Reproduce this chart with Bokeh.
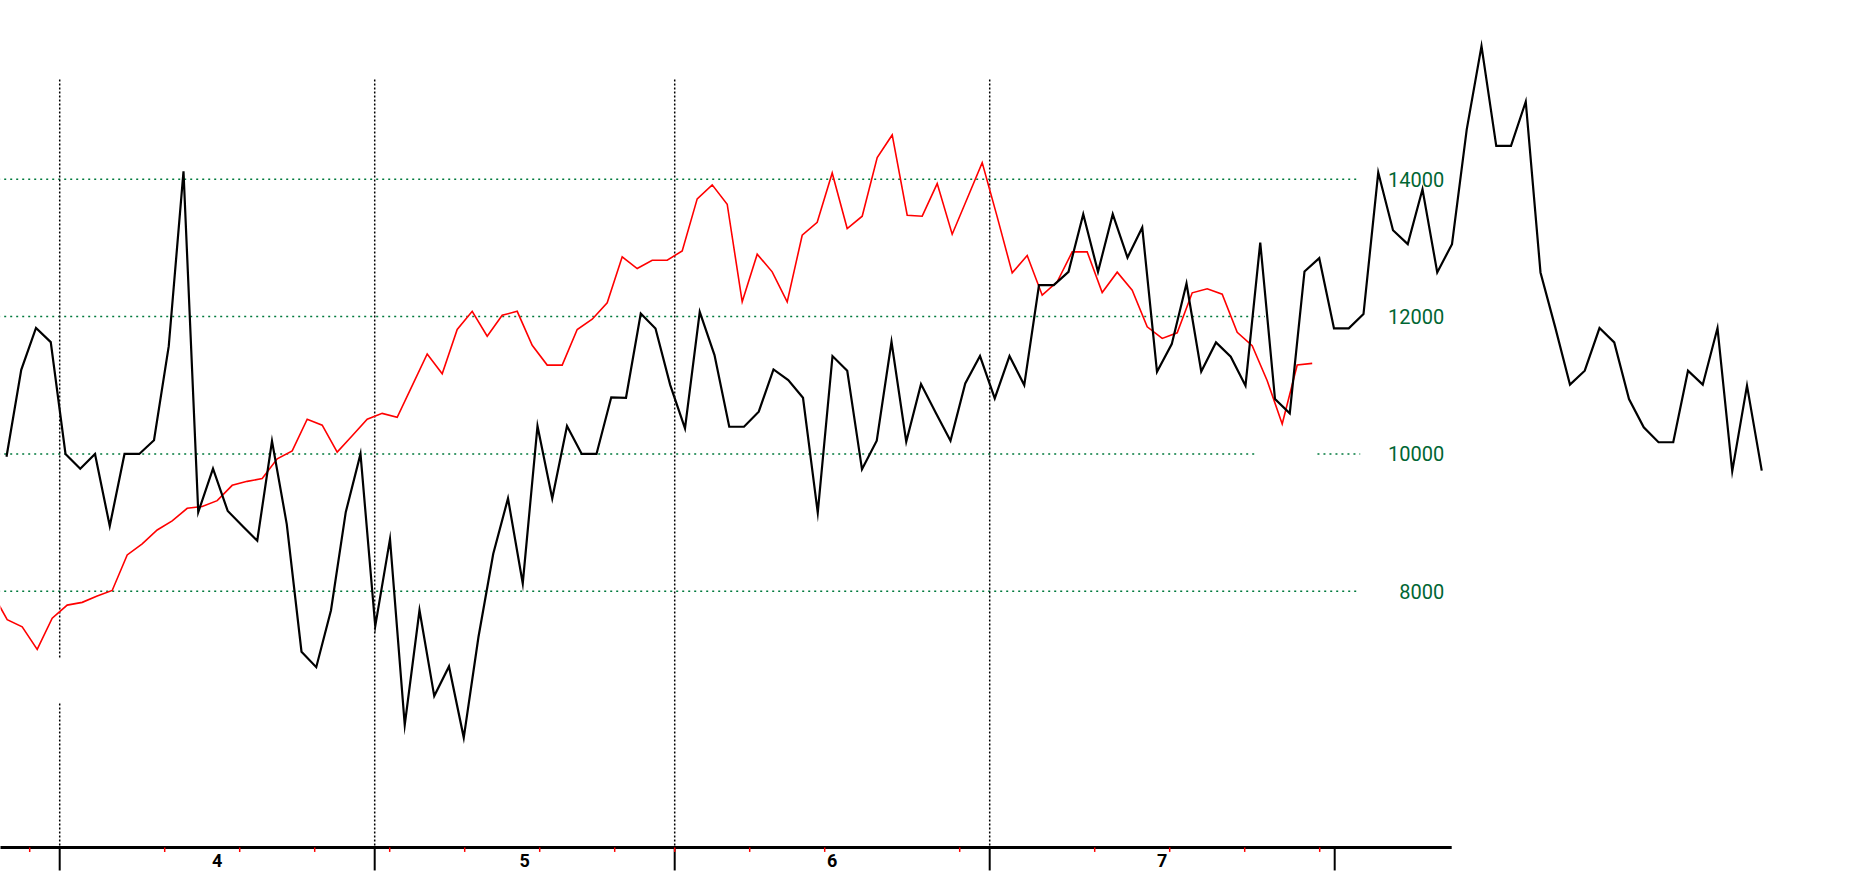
from bokeh.plotting import figure
from bokeh.models import Range1d
from bokeh.core.properties import value
from bokeh.embed import file_html
from bokeh.resources import INLINE

# ---- data -------------------------------------------------------------
black_values = [
    9960, 11225, 11835, 11628, 10000, 9785, 10000, 8950, 10000, 10000,
    10200, 11570, 14115, 9152, 9785, 9169, 8950, 8737, 10188, 8979,
    7120, 6895, 7724, 9152, 10000, 7493, 8760, 6054, 7724, 6474,
    6906, 5870, 7338, 8547, 9353, 8115, 10407, 9353, 10407, 10000,
    10000, 10825, 10818, 12045, 11827, 11003, 10372, 12070, 11439, 10396,
    10396, 10615, 11231, 11075, 10818, 9145, 11425, 11211, 9776, 10193,
    11633, 10178, 11017, 10600, 10193, 11027, 11425, 10809, 11425, 11003,
    12458, 12458, 12652, 13491, 12652, 13491, 12860, 13297, 11197, 11599,
    12482, 11200, 11624, 11416, 10994, 13079, 10800, 10592, 12657, 12851,
    11828, 11828, 12037, 14097, 13258, 13055, 13855, 12643, 13055, 14727,
    15939, 14485, 14485, 15130, 12643, 11843, 11009, 11212, 11833, 11624,
    10800, 10388, 10170, 10170, 11212, 11009, 11833, 9748, 10994, 9758,
]
red_start = -1          # the red series begins just off the left edge
red_values = [
    7980, 7586, 7482, 7154, 7609, 7799, 7839, 7931, 8012, 8530, 8691,
    8893, 9025, 9209, 9235, 9320, 9543, 9601, 9641, 9929, 10044,
    10505, 10419, 10027, 10265, 10505, 10591, 10534, 10994, 11455, 11167,
    11812, 12077, 11714, 12019, 12077, 11582, 11294, 11294, 11812, 11962,
    12200, 12870, 12700, 12821, 12821, 12957, 13714, 13918, 13636, 12215,
    12909, 12652, 12215, 13185, 13374, 14092, 13282, 13462, 14315, 14645,
    13476, 13462, 13937, 13200, 13719, 14242, 13452, 12637, 12889, 12312,
    12506, 12942, 12942, 12351, 12647, 12385, 11851, 11682, 11764, 12346,
    12405, 12327, 11770, 11576, 11067, 10437, 11295, 11319,
]
grid_values = [8000, 10000, 12000, 14000]
grid_labels = ["8000", "10000", "12000", "14000"]
month_labels = ["4", "5", "6", "7"]
month_label_pos = [14, 34.5, 55, 77]
month_bounds = [3.5, 24.5, 44.5, 65.5, 88.5]
week_ticks = [1.5, 10.5, 15.5, 20.5, 25.5, 30.5, 35.5, 40.5, 44.5,
              49.5, 54.5, 63.5, 72.5, 77.5, 82.5, 87.5]

# ---- layout constants -------------------------------------------------
AXIS_Y = 4270
TICK_LOW = 3935
MINOR_LOW = 4205
LABEL_Y = 4075
VLINE_TOP = 15452
GRID_LEFT = -1.0
GRID_RIGHT = 90.2
GREEN = "#007a3d"
LABEL_GREEN = "#006633"
FONT = value("Roboto")

p = figure(width=1851, height=871,
           x_range=Range1d(-0.4467, 122.9533),
           y_range=Range1d(3919.9, 16602.8),
           x_axis_location=None, y_axis_location=None,
           toolbar_location=None, output_backend="svg",
           min_border=0, outline_line_color=None,
           background_fill_color="white", border_fill_color="white")
p.extra_x_ranges = {"black": Range1d(-0.4068, 125.085)}
p.xgrid.visible = False
p.ygrid.visible = False

# horizontal green dotted grid lines (with the gaps of the original)
gx0 = [GRID_LEFT, GRID_LEFT, 87.35, GRID_LEFT, GRID_LEFT]
gx1 = [GRID_RIGHT, 83.4, GRID_RIGHT, 83.85, GRID_RIGHT]
gy = [grid_values[0], grid_values[1], grid_values[1], grid_values[2], grid_values[3]]
p.segment(x0=gx0, y0=gy, x1=gx1, y1=gy, line_color=GREEN,
          line_width=1.5, line_dash="2 4")

# vertical black dotted month separators
vx = [month_bounds[0], month_bounds[0]] + month_bounds[1:4]
vy0 = [VLINE_TOP, 6366, VLINE_TOP, VLINE_TOP, VLINE_TOP]
vy1 = [7036, AXIS_Y, AXIS_Y, AXIS_Y, AXIS_Y]
p.segment(x0=vx, y0=vy0, x1=vx, y1=vy1, line_color="black",
          line_width=1.5, line_dash="2 2")

# labels of the value scale
p.text(x=[95.8] * len(grid_values), y=grid_values, text=grid_labels,
       text_align="right", text_baseline="middle", text_color=LABEL_GREEN,
       text_font=FONT, text_font_size="20px")

# series
red_x = list(range(red_start, red_start + len(red_values)))
p.line(red_x, red_values, line_color="#ff0000",
       line_width=1.6, line_join="miter")
p.line(list(range(len(black_values))), black_values, x_range_name="black",
       line_color="black", line_width=2.2, line_join="miter")

# x axis: line, month ticks, weekly red ticks, month labels
p.segment(x0=[GRID_LEFT], y0=[AXIS_Y], x1=[96.3], y1=[AXIS_Y],
          line_color="black", line_width=3)
p.segment(x0=month_bounds, y0=[AXIS_Y] * len(month_bounds),
          x1=month_bounds, y1=[TICK_LOW] * len(month_bounds),
          line_color="black", line_width=2)
p.segment(x0=week_ticks, y0=[AXIS_Y] * len(week_ticks),
          x1=week_ticks, y1=[MINOR_LOW] * len(week_ticks),
          line_color="#ff0000", line_width=1.5)
p.text(x=month_label_pos, y=[LABEL_Y] * len(month_labels), text=month_labels,
       text_align="center", text_baseline="middle", text_color="black",
       text_font=FONT, text_font_size="18px", text_font_style="bold")

open("out.html", "w").write(file_html(p, INLINE))
